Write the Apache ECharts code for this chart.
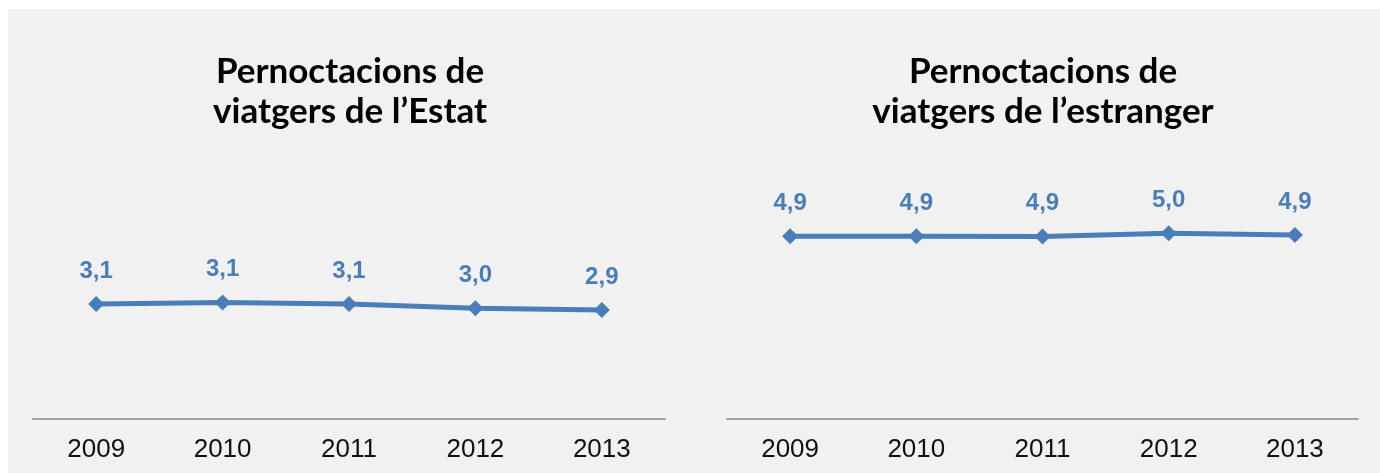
<!DOCTYPE html>
<html>
<head>
<meta charset="utf-8">
<script src="https://cdn.jsdelivr.net/npm/echarts@6/dist/echarts.min.js"></script>
<style>
  html, body { margin: 0; padding: 0; background: #ffffff; }
  #chart { width: 1380px; height: 473px; }
</style>
</head>
<body>
<div id="chart"></div>
<script>
const categories = ['2009', '2010', '2011', '2012', '2013'];
const estatValues = [3.08, 3.12, 3.08, 2.97, 2.92];
const estrangerValues = [4.90, 4.90, 4.89, 4.98, 4.93];
const titles = ['Pernoctacions de\nviatgers de l\u2019Estat', 'Pernoctacions de\nviatgers de l\u2019estranger'];

const lineColor = '#4a7ebb';
const fmt = p => p.value.toFixed(1).replace('.', ',');

const chart = echarts.init(document.getElementById('chart'), null, { renderer: 'canvas' });

function xAxisCfg(idx) {
  return {
    type: 'category', gridIndex: idx, data: categories, boundaryGap: true,
    axisTick: { show: false },
    axisLine: { lineStyle: { color: '#a3a3a3', width: 2 } },
    axisLabel: { color: '#111', fontFamily: 'Liberation Sans, Arial, sans-serif', fontSize: 26, margin: 18 }
  };
}
function yAxisCfg(idx) {
  return { type: 'value', gridIndex: idx, min: 0, max: 6, show: false, splitLine: { show: false } };
}
function seriesCfg(idx, data) {
  return {
    type: 'line', xAxisIndex: idx, yAxisIndex: idx, data: data,
    symbol: 'diamond', symbolSize: 16,
    lineStyle: { color: lineColor, width: 5 },
    itemStyle: { color: lineColor },
    label: {
      show: true, position: 'top', distance: 13, formatter: fmt,
      color: lineColor, fontWeight: 'bold', fontSize: 24,
      fontFamily: 'Liberation Sans, Arial, sans-serif'
    },
    silent: true, animation: false
  };
}

chart.setOption({
  animation: false,
  graphic: [{
    type: 'rect', z: -10, silent: true,
    shape: { x: 8, y: 9, width: 1372, height: 464 },
    style: { fill: '#f1f1f1' }
  }],
  title: [
    { text: titles[0], left: 350, top: 52, textAlign: 'center', padding: 0,
      textStyle: { fontFamily: 'Lato, sans-serif', fontWeight: 'bold', fontSize: 35, lineHeight: 40, color: '#000' } },
    { text: titles[1], left: 1043, top: 52, textAlign: 'center', padding: 0,
      textStyle: { fontFamily: 'Lato, sans-serif', fontWeight: 'bold', fontSize: 35, lineHeight: 40, color: '#000' } }
  ],
  grid: [
    { left: 33, width: 632, bottom: 54, height: 223.8 },
    { left: 727, width: 631, bottom: 54, height: 223.8 }
  ],
  xAxis: [xAxisCfg(0), xAxisCfg(1)],
  yAxis: [yAxisCfg(0), yAxisCfg(1)],
  series: [seriesCfg(0, estatValues), seriesCfg(1, estrangerValues)]
});
</script>
</body>
</html>
